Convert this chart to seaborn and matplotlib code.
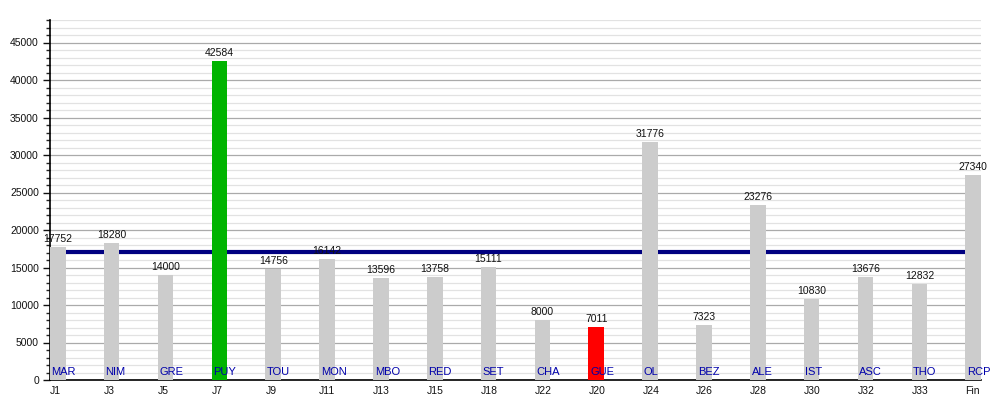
import matplotlib
matplotlib.use("Agg")
import matplotlib.pyplot as plt
import seaborn as sns
import numpy as np
import pandas as pd
from matplotlib.ticker import MultipleLocator

rounds = ["J1", "J3", "J5", "J7", "J9", "J11", "J13", "J15", "J18", "J22",
          "J20", "J24", "J26", "J28", "J30", "J32", "J33", "Fin"]
teams = ["MAR", "NIM", "GRE", "PUY", "TOU", "MON", "MBO", "RED", "SET", "CHA",
         "GUE", "OL", "BEZ", "ALE", "IST", "ASC", "THO", "RCP"]
attendance = [17752, 18280, 14000, 42584, 14756, 16142, 13596, 13758, 15111, 8000,
              7011, 31776, 7323, 23276, 10830, 13676, 12832, 27340]
highlight = {"PUY": "#00b400", "GUE": "#ff0000"}

sns.set_theme(style="white")
plt.rcParams["font.family"] = ["Liberation Sans", "DejaVu Sans"]

df = pd.DataFrame({"round": rounds, "team": teams, "value": attendance})
palette = [highlight.get(t, "#cccccc") for t in teams]

fig = plt.figure(figsize=(10, 4), dpi=100)
ax = fig.add_axes([0.05, 0.05, 0.931, 0.90])

w = 0.29
sns.barplot(data=df, x="round", y="value", hue="round", palette=palette,
            legend=False, width=w, ax=ax, zorder=3, saturation=1,
            linewidth=0, edgecolor="none")

avg = float(np.mean(attendance))
ax.plot(np.arange(len(rounds)), [avg] * len(rounds), color="#000080",
        linewidth=3, zorder=2.5, solid_capstyle="butt")

for i, (t, v) in enumerate(zip(teams, attendance)):
    ax.text(i, v + 400, str(v), ha="center", va="bottom", fontsize=7.5,
            color="#111111", zorder=5)
    ax.text(i - w / 2 + 0.03, 450, t, ha="left", va="bottom", fontsize=8,
            color="#0000aa", zorder=5)

ax.set_xlim(-w / 2, len(rounds) - 1 + w / 2)
ax.set_ylim(0, 48000)
ax.yaxis.set_major_locator(MultipleLocator(5000))
ax.yaxis.set_minor_locator(MultipleLocator(1000))
ax.grid(which="major", axis="y", color="#aaaaaa", linewidth=0.9, zorder=0)
ax.grid(which="minor", axis="y", color="#e2e2e2", linewidth=0.9, zorder=0)
ax.set_axisbelow(True)

ax.set_xticks(np.arange(len(rounds)) - w / 2)
ax.set_xticklabels(rounds, ha="left")
ax.tick_params(axis="x", length=0, pad=4, labelsize=7.5, colors="#111111")
ax.tick_params(axis="y", which="major", length=5, width=1, direction="out",
               left=True, labelsize=7.5, pad=3, colors="#111111")
ax.tick_params(axis="y", which="minor", length=3, width=1, direction="out", left=True)

for s in ["top", "right"]:
    ax.spines[s].set_visible(False)
for s in ["left", "bottom"]:
    ax.spines[s].set_color("black")
    ax.spines[s].set_linewidth(1.2)

ax.set_xlabel("")
ax.set_ylabel("")

fig.savefig("out.png", dpi=100)
